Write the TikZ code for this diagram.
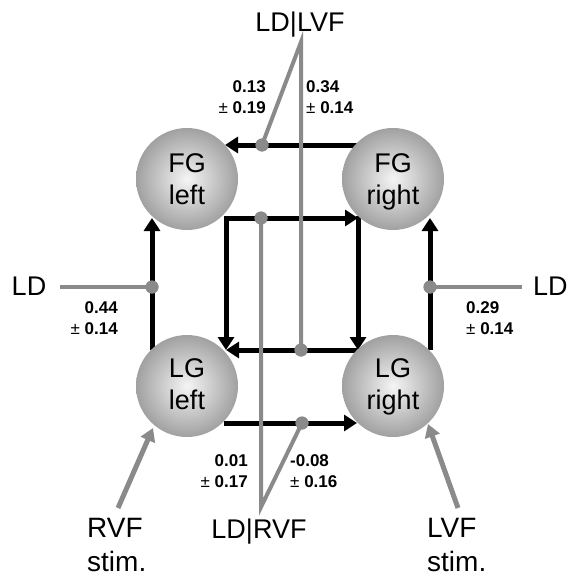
\documentclass[tikz,border=0pt]{standalone}
\usepackage{fontspec}
\setmainfont{Liberation Sans}
\usetikzlibrary{arrows.meta}
\definecolor{lgray}{HTML}{8A8A8A}
\pgfdeclareradialshading{ballshade}{\pgfpoint{0bp}{0bp}}{color(0bp)=(white!96!black); color(25bp)=(white!63!black); color(50bp)=(white!63!black)}
\tikzset{
  ball/.style={circle, minimum size=102pt, inner sep=0pt, outer sep=0pt, shading=ballshade},
  bigtxt/.style={font=\fontsize{27}{32}\selectfont, inner sep=0pt, align=center},
  stimtxt/.style={font=\fontsize{28}{34}\selectfont, inner sep=0pt, align=left},
  numl/.style={font=\fontsize{17}{21}\selectfont\bfseries, inner sep=0pt, align=right},
  numr/.style={font=\fontsize{17}{21}\selectfont\bfseries, inner sep=0pt, align=left},
  blk/.style={line width=5pt, draw=black, -{Triangle[length=13pt,width=16pt]}},
  gline/.style={line width=4pt, draw=lgray, line join=miter},
  garrow/.style={line width=5pt, draw=lgray, -{Triangle[length=13pt,width=15pt]}},
  gdot/.style={circle, fill=lgray, minimum size=13pt, inner sep=0pt, outer sep=0pt}
}
\newcommand{\pmx}{{\mdseries\char"00B1}}
\begin{document}
\begin{tikzpicture}[x=1pt,y=-1pt]
\useasboundingbox (0,0) rectangle (569,578);
% route points
\coordinate (t1) at (357,145);
\coordinate (t2) at (225,145);
\coordinate (i1) at (226,218);
\coordinate (i2) at (358,218);
\coordinate (i3) at (358,350);
\coordinate (i4) at (226,350);
\coordinate (o1) at (152,350);
\coordinate (o2) at (152,218);
\coordinate (o3) at (430,350);
\coordinate (o4) at (430,218);
\coordinate (b1) at (224,423);
\coordinate (b2) at (357,423);
\coordinate (aTop) at (301,42);
\coordinate (aBot) at (261,507);
\coordinate (eL) at (60,287);
\coordinate (eR) at (522,287);
\coordinate (sR) at (118,508);
\coordinate (tR) at (153,428);
\coordinate (sL) at (458,508);
\coordinate (tL) at (428,424);
% black connectors
\draw[blk] (t1) -- (t2);
\draw[blk, line cap=rect] (i1) -- (i2);
\draw[blk, line cap=rect] (i1) -- (i4);
\draw[blk, line cap=rect] (i2) -- (i3);
\draw[blk, line cap=rect] (i3) -- (i4);
\draw[blk] (o1) -- (o2);
\draw[blk] (o3) -- (o4);
\draw[blk] (b1) -- (b2);
% circles
\node[ball] (FGL) at (187,179) {};
\node[ball] (FGR) at (393,179) {};
\node[ball] (LGL) at (187,386) {};
\node[ball] (LGR) at (393,386) {};
\node[bigtxt, anchor=north] (FGLt) at (187,153) {FG\\left};
\node[bigtxt, anchor=north] (FGRt) at (393,153) {FG\\right};
\node[bigtxt, anchor=north] (LGLt) at (187,358) {LG\\left};
\node[bigtxt, anchor=north] (LGRt) at (393,358) {LG\\right};
% gray dots
\node[gdot] (dTop) at (262,145) {};
\node[gdot] (dMid) at (261,218) {};
\node[gdot] (dIn) at (301,350) {};
\node[gdot] (dBot) at (302,423) {};
\node[gdot] (dL) at (152,287) {};
\node[gdot] (dR) at (430,287) {};
% gray lines
\draw[gline] (dTop.center) -- (aTop) -- (dIn.center);
\draw[gline] (dMid.center) -- (aBot) -- (dBot.center);
\draw[gline] (eL) -- (dL.center);
\draw[gline] (dR.center) -- (eR);
\node[gdot] at (dTop) {};
\node[gdot] at (dMid) {};
\node[gdot] at (dIn) {};
\node[gdot] at (dBot) {};
\node[gdot] at (dL) {};
\node[gdot] at (dR) {};
\draw[garrow] (sR) -- (tR);
\draw[garrow] (sL) -- (tL);
% texts
\node[bigtxt, anchor=base] (LDLVF) at (300,32) {LD|LVF};
\node[bigtxt, anchor=base] (LDRVF) at (259,538) {LD|RVF};
\node[bigtxt, anchor=base] (LDl) at (29,295) {LD};
\node[bigtxt, anchor=base west] (LDr) at (533,295) {LD};
\node[stimtxt, anchor=north west] (RVF) at (87,518) {RVF\\stim.};
\node[stimtxt, anchor=north west] (LVF) at (427,518) {LVF\\stim.};
% numbers
\node[numl, anchor=north east] (n1) at (266,80) {0.13\\\pmx{} 0.19};
\node[numr, anchor=north west] (n2) at (306,80) {0.34\\\pmx{} 0.14};
\node[numl, anchor=north east] (n3) at (118,301) {0.44\\\pmx{} 0.14};
\node[numr, anchor=north west] (n4) at (466,301) {0.29\\\pmx{} 0.14};
\node[numl, anchor=north east] (n5) at (248,454) {0.01\\\pmx{} 0.17};
\node[numr, anchor=north west] (n6) at (290,454) {-0.08\\\pmx{} 0.16};
\end{tikzpicture}
\end{document}
